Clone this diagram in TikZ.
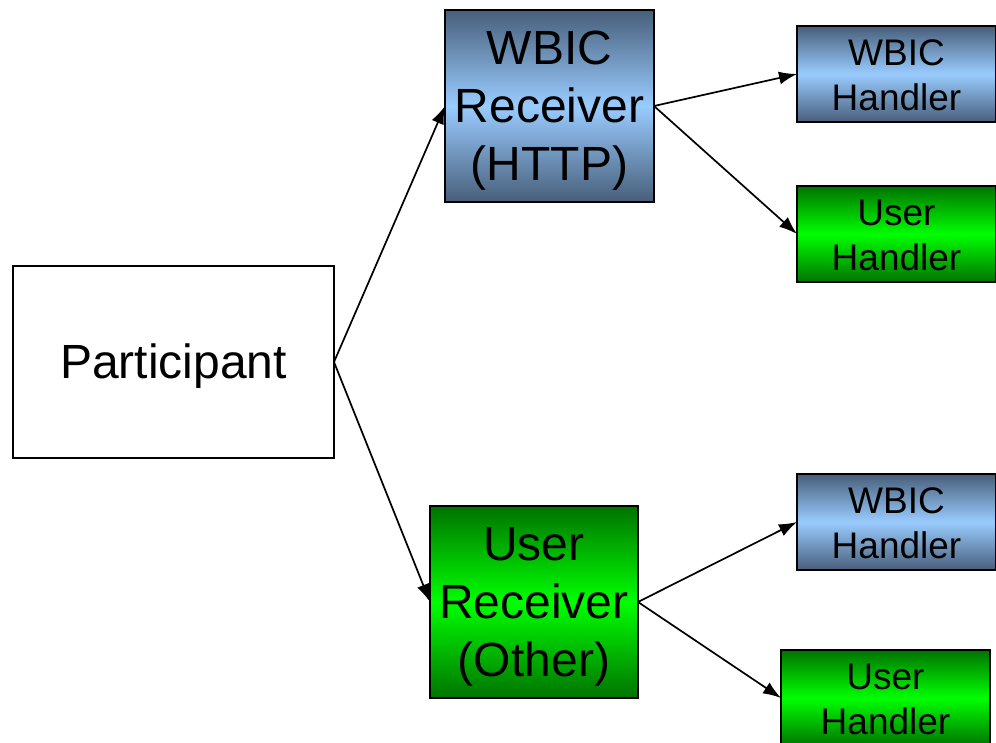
\documentclass[tikz,border=0pt]{standalone}
\usepackage{fontspec}
\setmainfont{Liberation Sans}
\usetikzlibrary{arrows.meta}
\definecolor{bluedark}{RGB}{72,94,122}
\definecolor{bluelight}{RGB}{153,204,255}
\definecolor{greendark}{RGB}{0,115,0}
\definecolor{greenlight}{RGB}{0,255,0}
\newcommand{\lowtext}[1]{\raisebox{-5pt}[\height][\depth]{\begin{tabular}{@{}c@{}}#1\end{tabular}}}
\tikzset{
  box/.style={draw=black, line width=2.5pt, rectangle, align=center, inner sep=0pt, outer sep=0pt},
  bigbox/.style={box, font=\fontsize{48}{58}\selectfont},
  smallbox/.style={box, font=\fontsize{37}{45}\selectfont},
  bluefill/.style={top color=bluedark, bottom color=bluedark, middle color=bluelight},
  greenfill/.style={top color=greendark, bottom color=greendark, middle color=greenlight},
  conn/.style={line width=1.7pt, -{Latex[length=18pt,width=13pt]}}
}
\begin{document}
\begin{tikzpicture}[x=1pt,y=-1pt]
\clip (0,0) rectangle (996,743);
\useasboundingbox (0,0) rectangle (996,743);
\node[bigbox, minimum width=321pt, minimum height=192pt] (P) at (173.5,362) {\lowtext{Participant}};
\node[bigbox, bluefill, minimum width=209pt, minimum height=192pt] (WR) at (549.5,106) {\lowtext{WBIC\\Receiver\\(HTTP)}};
\node[bigbox, greenfill, minimum width=208pt, minimum height=192pt] (UR) at (534,602) {\lowtext{User\\Receiver\\(Other)}};
\node[smallbox, bluefill, minimum width=199pt, minimum height=96pt] (WH1) at (896.5,74) {\lowtext{WBIC\\Handler}};
\node[smallbox, greenfill, minimum width=199pt, minimum height=96pt] (UH1) at (896.5,234) {\lowtext{User\\Handler}};
\node[smallbox, bluefill, minimum width=199pt, minimum height=96pt] (WH2) at (896.5,522) {\lowtext{WBIC\\Handler}};
\node[smallbox, greenfill, minimum width=209pt, minimum height=96pt] (UH2) at (885.5,698) {\lowtext{User\\Handler}};
\draw[conn] (P.east) -- (WR.west);
\draw[conn] (P.east) -- (UR.west);
\draw[conn] (WR.east) -- (WH1.west);
\draw[conn] (WR.east) -- (UH1.west);
\draw[conn] (UR.east) -- (WH2.west);
\draw[conn] (UR.east) -- (UH2.west);
\end{tikzpicture}
\end{document}
